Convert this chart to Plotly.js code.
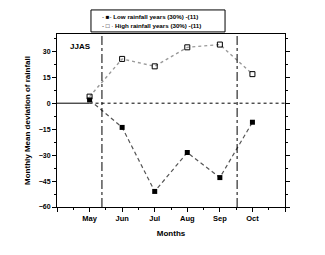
<!DOCTYPE html>
<html>
<head>
<meta charset="utf-8">
<script src="https://cdn.plot.ly/plotly-3.0.1.min.js"></script>
<style>
  html, body { margin: 0; padding: 0; background: #fff; }
  #chart { width: 325px; height: 255px; }
</style>
</head>
<body>
<div id="chart"></div>
<script>
// month positions and labels (4 and 11 are unlabeled end ticks)
const monthPos = [5, 6, 7, 8, 9, 10];
const tickPos = [4, 5, 6, 7, 8, 9, 10, 11];
const tickLabels = ['', 'May', 'Jun', 'Jul', 'Aug', 'Sep', 'Oct', ''];

// deviation of rainfall
const lowYears = [1.9, -14, -51, -28.5, -43, -11];
const highYears = [3.8, 25.6, 21.3, 32.3, 33.9, 16.8];
const seriesNames = ['Low rainfall years (30%) -(11)', 'High rainfall years (30%) -(11)'];
const legendGlyphs = ['- \u25A0-', '- \u25A1 \u00B7'];

// JJAS season boundaries
const seasonBounds = [5.38, 9.53];

const fam = 'Liberation Sans, Arial, sans-serif';

const traces = [
    {
        x: monthPos, y: lowYears,
        type: 'scatter', mode: 'lines+markers',
        name: seriesNames[0],
        line: { color: '#555', width: 1.2, dash: '4px,3px' },
        marker: { symbol: 'square', size: 5, color: '#000' }
    },
    {
        x: monthPos, y: highYears,
        type: 'scatter', mode: 'lines+markers',
        name: seriesNames[1],
        line: { color: '#999', width: 1.4, dash: 'dot' },
        marker: { symbol: 'square-open', size: 5, color: '#000', line: { width: 1 } }
    }
];

const shapes = [
    { type: 'line', xref: 'x', yref: 'y', x0: 4, x1: 5, y0: 0, y1: 0, line: { color: '#000', width: 1 } },
    { type: 'line', xref: 'x', yref: 'y', x0: 5, x1: 11, y0: 0, y1: 0, line: { color: '#000', width: 1, dash: 'dot' } },
    // legend box
    { type: 'rect', xref: 'paper', yref: 'paper', x0: 0.149, x1: 0.737, y0: 1.012, y1: 1.139,
      line: { color: '#000', width: 1 }, fillcolor: '#fff' }
];
seasonBounds.forEach(b => shapes.push({
    type: 'line', xref: 'x', yref: 'paper', x0: b, x1: b, y0: 0, y1: 1,
    line: { color: '#000', width: 1, dash: 'dashdot' }
}));

const annotations = [{
    text: '<b>JJAS</b>', xref: 'paper', yref: 'paper', x: 0.05, y: 0.93,
    xanchor: 'left', yanchor: 'middle', showarrow: false,
    font: { family: fam, size: 8, color: '#000' }
}];
seriesNames.forEach((n, i) => annotations.push({
    text: legendGlyphs[i] + ' <b>' + n + '</b>',
    xref: 'paper', yref: 'paper', x: 0.19, y: i === 0 ? 1.103 : 1.052,
    xanchor: 'left', yanchor: 'middle', showarrow: false,
    font: { family: fam, size: 6.2, color: '#000' }
}));

const layout = {
    width: 325, height: 255,
    margin: { l: 57, r: 40, t: 34, b: 48 },
    paper_bgcolor: '#fff', plot_bgcolor: '#fff',
    font: { family: fam, size: 7, color: '#000' },
    showlegend: false,
    xaxis: {
        range: [4, 11],
        tickvals: tickPos, ticktext: tickLabels,
        ticks: 'outside', ticklen: 4, tickwidth: 1, tickcolor: '#000',
        minor: { ticks: 'outside', ticklen: 2, dtick: 0.5, tickcolor: '#000' },
        showline: true, linecolor: '#000', linewidth: 1, mirror: true,
        showgrid: false, zeroline: false,
        tickfont: { family: fam, size: 7.5, color: '#000', weight: 'bold' },
        title: { text: '<b>Months</b>', standoff: 8, font: { family: fam, size: 8 } }
    },
    yaxis: {
        range: [-60, 40],
        tickvals: [30, 15, 0, -15, -30, -45, -60],
        ticks: 'outside', ticklen: 4, tickwidth: 1, tickcolor: '#000',
        minor: { ticks: 'outside', ticklen: 2, dtick: 7.5, tickcolor: '#000' },
        showline: true, linecolor: '#000', linewidth: 1, mirror: 'allticks',
        showgrid: false, zeroline: false,
        tickfont: { family: fam, size: 7, color: '#000', weight: 'bold' },
        title: { text: '<b>Monthly Mean deviation of rainfall</b>', standoff: 6, font: { family: fam, size: 8 } }
    },
    shapes: shapes,
    annotations: annotations
};

Plotly.newPlot('chart', traces, layout, { displayModeBar: false, staticPlot: true });
</script>
</body>
</html>
